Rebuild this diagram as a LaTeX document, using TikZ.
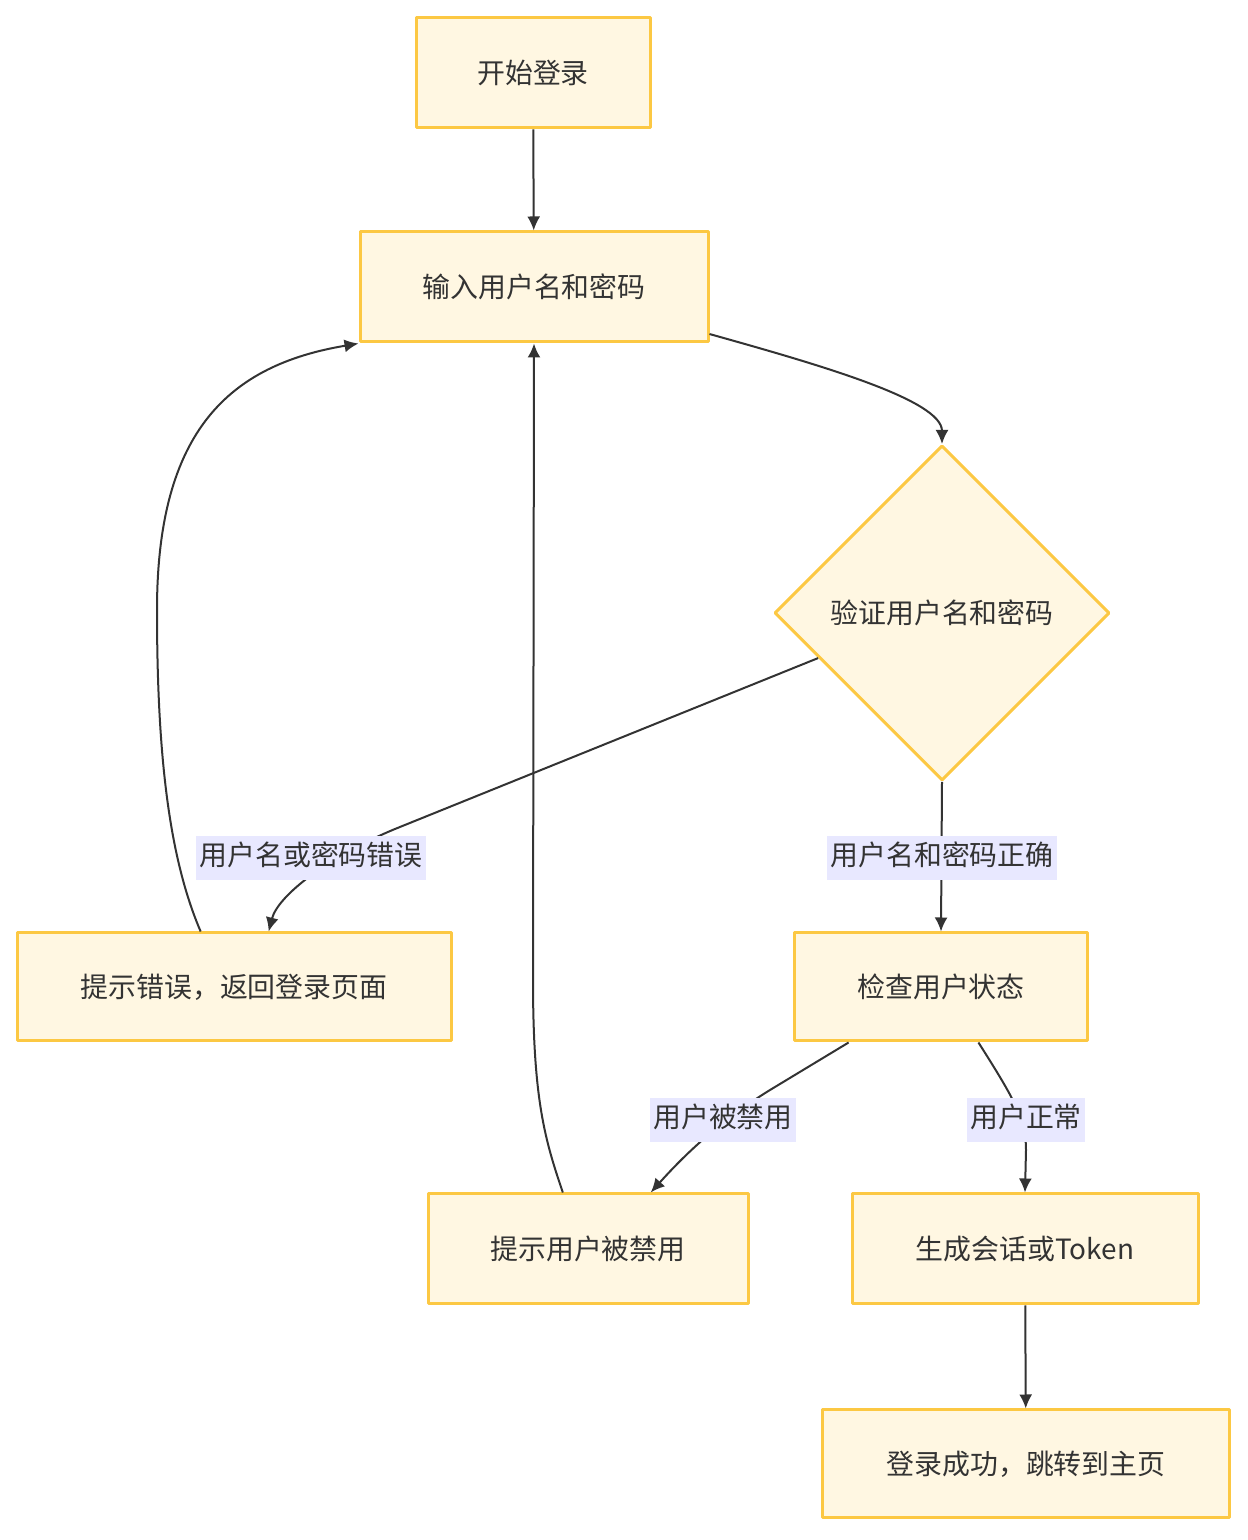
\documentclass[tikz,border=0pt]{standalone}
\usepackage{fontspec}
\setmainfont{Noto Sans CJK SC}
\usetikzlibrary{shapes.geometric,arrows.meta}
\definecolor{boxfill}{HTML}{FFF7E2}
\definecolor{boxline}{HTML}{FCC843}
\definecolor{labelfill}{HTML}{E8E8FF}
\definecolor{inkgray}{HTML}{333333}
\begin{document}
\begin{tikzpicture}[>={Latex[length=7bp,width=6.5bp]},line join=bevel,scale=0.5,
  stepbox/.style={draw=boxline,fill=boxfill,line width=1.5bp,inner sep=0pt,
    minimum height=55bp,text=inkgray,font=\fontsize{14}{17}\selectfont},
  decision/.style={diamond,aspect=1,draw=boxline,fill=boxfill,line width=1.5bp,
    inner sep=0pt,minimum width=167.5bp,minimum height=167.5bp,text=inkgray,
    font=\fontsize{14}{17}\selectfont},
  edgelabel/.style={fill=labelfill,inner xsep=1.5bp,inner ysep=4bp,text height=11bp,
    text depth=3bp,text=inkgray,font=\fontsize{14}{17}\selectfont},
  flow/.style={inkgray,line width=1bp,->}]
\useasboundingbox (0bp,0bp) rectangle (1248bp,1540bp);
%%
\node (node_0) at (533.0bp,1467.0bp) [stepbox,minimum width=117bp] {开始登录};
  \node (node_1) at (534.0bp,1253.0bp) [stepbox,minimum width=174bp] {输入用户名和密码};
  \node (node_2) at (942.0bp,927.0bp) [decision] {验证用户名和密码};
  \node (node_3) at (234.0bp,553.0bp) [stepbox,minimum width=217bp,minimum height=54bp] {提示错误，返回登录页面};
  \node (node_4) at (941.0bp,553.0bp) [stepbox,minimum width=146.5bp,minimum height=54bp] {检查用户状态};
  \node (node_5) at (588.0bp,291.0bp) [stepbox,minimum width=160bp] {提示用户被禁用};
  \node (node_6) at (1025.0bp,291.0bp) [stepbox,minimum width=173bp] {生成会话或Token};
  \node (node_7) at (1026.0bp,76.0bp) [stepbox,minimum width=203.5bp,minimum height=54bp] {登录成功，跳转到主页};
  \draw [flow] (node_0) -- (node_1);
  \draw [flow] (node_1.345) ..controls (820bp,1175bp) and (942bp,1140bp)  .. (node_2.north);
  \draw [flow] (node_2.200) -- (395bp,711bp) ..controls (330bp,684bp) and (278bp,645bp)  .. (node_3.58);
  \draw [flow] (node_2.south) -- (node_4.north);
  \draw [flow] (node_3.121) ..controls (170bp,680bp) and (157bp,780bp)  .. (157bp,930bp) ..controls (157bp,1110bp) and (230bp,1175bp)  .. (node_1.south west);
  \draw [flow] (node_5.114) ..controls (545bp,400bp) and (533bp,440bp)  .. (533bp,560bp) -- (node_1.south);
  \draw [flow] (node_4.211) -- (770bp,450bp) ..controls (715bp,416bp) and (680bp,380bp)  .. (node_5.42);
  \draw [flow] (node_4.304) ..controls (1015bp,440bp) and (1026bp,420bp)  .. (1026bp,390bp) -- (node_6.north);
  \draw [flow] (node_6) -- (node_7);
  \node (lab_0) at (311.0bp,682.0bp) [edgelabel] {用户名或密码错误};
  \node (lab_1) at (942.0bp,682.0bp) [edgelabel] {用户名和密码正确};
  \node (lab_2) at (723.0bp,420.0bp) [edgelabel] {用户被禁用};
  \node (lab_3) at (1026.0bp,420.0bp) [edgelabel] {用户正常};
%
\end{tikzpicture}
\end{document}
